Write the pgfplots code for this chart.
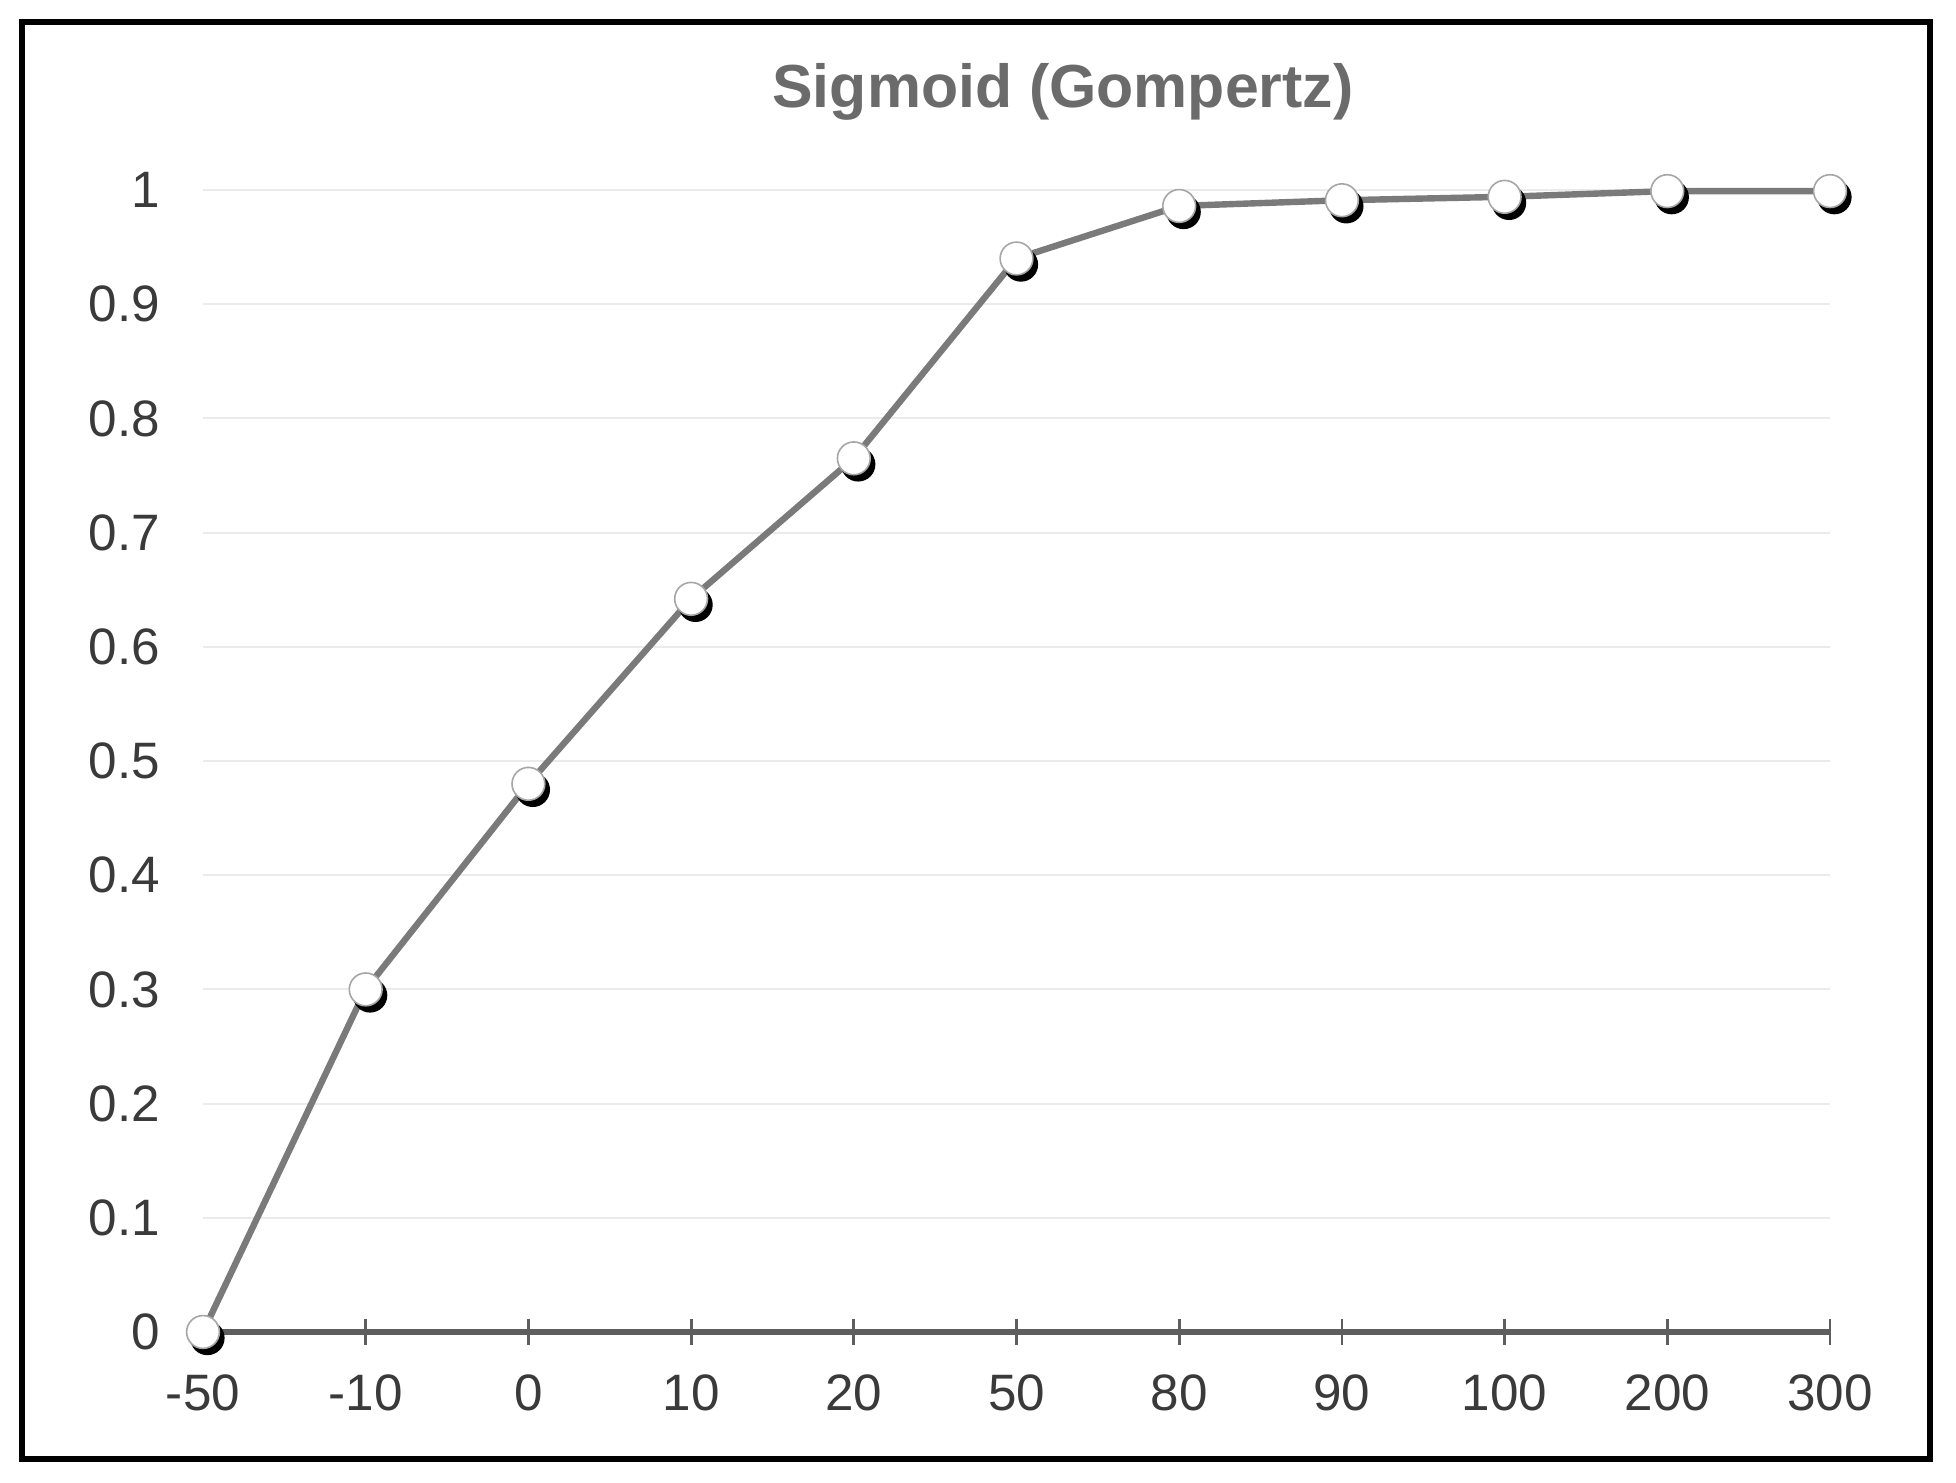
\documentclass[border=0pt]{standalone}
\usepackage{pgfplots}
\pgfplotsset{compat=1.18}
\usepackage{fontspec}
\setmainfont{Liberation Sans}
\usetikzlibrary{calc}
\definecolor{linegray}{HTML}{7A7A7A}
\definecolor{gridgray}{HTML}{EBEBEB}
\definecolor{axisgray}{HTML}{5E5E5E}
\definecolor{titlegray}{HTML}{6B6B6B}
\definecolor{labelgray}{HTML}{3A3A3A}
\begin{document}
\begin{tikzpicture}
\begin{axis}[
  scale only axis,
  width=406.75pt, height=285.5pt,
  xmin=0, xmax=10, ymin=0, ymax=1,
  clip=false,
  separate axis lines,
  axis x line*=bottom,
  axis y line*=left,
  y axis line style={draw=none},
  x axis line style={draw=axisgray, line width=1.3pt},
  xtick={0,1,2,3,4,5,6,7,8,9,10},
  xticklabels={-50,-10,0,10,20,50,80,90,100,200,300},
  ytick={0,0.1,0.2,0.3,0.4,0.5,0.6,0.7,0.8,0.9,1},
  yticklabels={0,0.1,0.2,0.3,0.4,0.5,0.6,0.7,0.8,0.9,1},
  tick align=center,
  major tick length=6.5pt,
  xtick style={draw=axisgray, line width=0.7pt},
  ytick style={draw=none},
  ymajorgrids,
  grid style={draw=gridgray, line width=0.5pt},
  ticklabel style={font=\fontsize{12.8}{15}\selectfont, text=labelgray},
  xticklabel style={yshift=-3.8pt},
  yticklabel style={xshift=-4pt},
  title={Sigmoid (Gompertz)},
  title style={font=\fontsize{15.2}{18}\selectfont\bfseries, text=titlegray, at={(0.5,1)}, anchor=base, yshift=14.5pt, xshift=11.6pt},
]
\addplot[linegray, line width=1.6pt, no marks] coordinates {
(0,0) (1,0.30) (2,0.48) (3,0.642) (4,0.765) (5,0.94) (6,0.986) (7,0.991) (8,0.994) (9,0.999) (10,0.999)
};
\addplot[only marks, mark=*, mark size=4.1pt, mark options={fill=black, draw=black, xshift=1.1pt, yshift=-1.5pt}] coordinates {
(0,0) (1,0.30) (2,0.48) (3,0.642) (4,0.765) (5,0.94) (6,0.986) (7,0.991) (8,0.994) (9,0.999) (10,0.999)
};
\addplot[only marks, mark=*, mark size=4.1pt, mark options={fill=white, draw=gray!70, line width=0.4pt}] coordinates {
(0,0) (1,0.30) (2,0.48) (3,0.642) (4,0.765) (5,0.94) (6,0.986) (7,0.991) (8,0.994) (9,0.999) (10,0.999)
};
\end{axis}
\draw[black, line width=1.5pt] ($(current axis.south west)+(-45.25pt,-31.75pt)$) rectangle ($(current axis.north east)+(25pt,42pt)$);
\pgfresetboundingbox
\path[use as bounding box] ($(current axis.south west)+(-50.75pt,-37.75pt)$) rectangle ($(current axis.north east)+(31.5pt,47.5pt)$);
\end{tikzpicture}
\end{document}
